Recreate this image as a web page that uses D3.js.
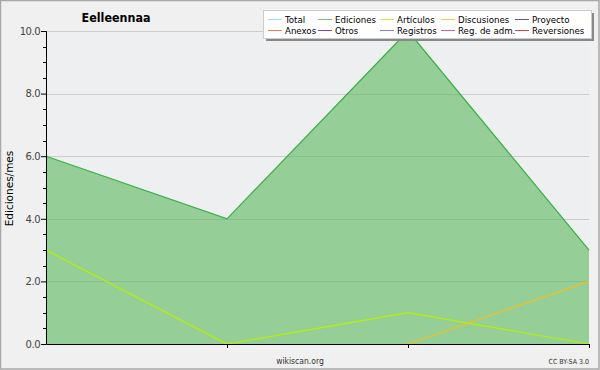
<!DOCTYPE html>
<html><head><meta charset="utf-8">
<script src="https://cdn.jsdelivr.net/npm/d3@7"></script>
<style>body{margin:0;background:#f0f0f0;}svg{display:block;font-family:"DejaVu Sans",sans-serif;}</style>
</head><body>
<script>
const categories = [0, 1, 2, 3];
const total = [6, 4, 10, 3];
const ediciones = [6, 4, 10, 3];
const articulos = [3, 0, 1, 0];
const discusiones = [null, null, 0, 2];
const yTicks = [0, 2, 4, 6, 8, 10];
const legendNames = ["Total","Ediciones","Artículos","Discusiones","Proyecto","Anexos","Otros","Registros","Reg. de adm.","Reversiones"];
const legendColors = ["#a0e0e0","#70c070","#c0f050","#f0d050","#606060","#f08040","#8040c0","#8080f0","#c060e0","#e04040"];

const W = 600, H = 370;
const svg = d3.select("body").append("svg").attr("width", W).attr("height", H);
svg.append("rect").attr("x",0.5).attr("y",0.5).attr("width",W-1.5).attr("height",H-1.5)
  .attr("fill","#f0f0f0").attr("stroke","#a8a8a8").attr("stroke-width",1.5);

const x = d3.scaleLinear().domain([0, 3]).range([46, 589]);
const y = d3.scaleLinear().domain([0, 10]).range([344, 31]);

function stext(px, py, sx, anchor, size, str) {
  const g = svg.append("g").attr("transform", `translate(${px},${py}) scale(${sx},1)`);
  return g.append("text").attr("text-anchor", anchor).attr("font-size", size).text(str);
}

svg.append("rect").attr("x", 46).attr("y", 31).attr("width", 543).attr("height", 313).attr("fill", "#eeeff1");

// grid
svg.append("g").selectAll("line").data(yTicks.filter(d=>d>0)).join("line")
  .attr("x1", 46).attr("x2", 589).attr("y1", d=>Math.round(y(d))+0.5).attr("y2", d=>Math.round(y(d))+0.5)
  .attr("stroke", "#cccccc");

// area
const area = d3.area().x((d,i)=>x(categories[i])).y0(y(0)).y1(d=>y(d));
svg.append("path").datum(ediciones).attr("d", area).attr("fill", "#5cb85c").attr("fill-opacity", 0.6);

const line = d3.line().defined(d=>d!==null).x((d,i)=>x(categories[i])).y(d=>y(d));
svg.append("path").datum(total).attr("d", line).attr("fill","none").attr("stroke","#a0e0e0").attr("stroke-width",1);
svg.append("path").datum(ediciones).attr("d", line).attr("fill","none").attr("stroke","#3cb043").attr("stroke-width",1.2);
svg.append("path").datum(articulos).attr("d", line).attr("fill","none").attr("stroke","#b8f000").attr("stroke-width",1.2);
svg.append("path").datum(discusiones).attr("d", line).attr("fill","none").attr("stroke","#f0c020").attr("stroke-width",1.2);

// y axis
const yAxis = d3.axisLeft(y).tickValues(yTicks).tickFormat(d3.format(".1f")).tickSize(5).tickPadding(1);
const gy = svg.append("g").attr("transform","translate(46,0)").call(yAxis);
gy.select(".domain").attr("stroke","#000");
gy.selectAll(".tick line").attr("stroke","#000");
gy.selectAll("text").attr("font-size", 10).attr("fill","#444").attr("font-family","DejaVu Sans").attr("letter-spacing","-0.5");
const minor = d3.range(0, 10.01, 0.5).filter(v => v % 2 !== 0);
svg.append("g").selectAll("line").data(minor).join("line")
  .attr("x1", 43).attr("x2", 46).attr("y1", d=>Math.round(y(d))+0.5).attr("y2", d=>Math.round(y(d))+0.5).attr("stroke","#000");

// x axis
const xAxis = d3.axisBottom(x).tickValues(categories.slice(1)).tickFormat("").tickSize(4).tickSizeOuter(0);
const gx = svg.append("g").attr("transform",`translate(0,344)`).call(xAxis);
gx.select(".domain").attr("stroke","#000");
gx.selectAll(".tick line").attr("stroke","#000");

// title & labels
stext(116, 22, 0.86, "middle", 13, "Eelleennaa").attr("font-weight","bold");
svg.append("text").attr("transform","translate(13,188.5) rotate(-90)").attr("text-anchor","middle").attr("font-size", 10.5).text("Ediciones/mes");
stext(300, 364, 0.85, "middle", 9, "wikiscan.org").attr("fill","#333");
stext(589, 364, 0.9, "end", 7, "CC BY-SA 3.0").attr("fill","#333");

// legend
svg.append("rect").attr("x", 266).attr("y", 13).attr("width", 328).attr("height", 28).attr("fill", "#888");
svg.append("rect").attr("x", 263.5).attr("y", 10.5).attr("width", 328).attr("height", 28).attr("fill", "#fff").attr("stroke","#ccc");
const colX = [268, 318, 380, 441, 515];
const rowY = [19, 30];
legendNames.forEach((n, i) => {
  const c = i % 5, r = Math.floor(i / 5);
  svg.append("line").attr("x1", colX[c]).attr("x2", colX[c] + 14).attr("y1", rowY[r] + 0.5).attr("y2", rowY[r] + 0.5).attr("stroke", legendColors[i]);
  stext(colX[c] + 17, rowY[r] + 3.5, 0.96, "start", 9, n);
});
</script>
</body></html>
